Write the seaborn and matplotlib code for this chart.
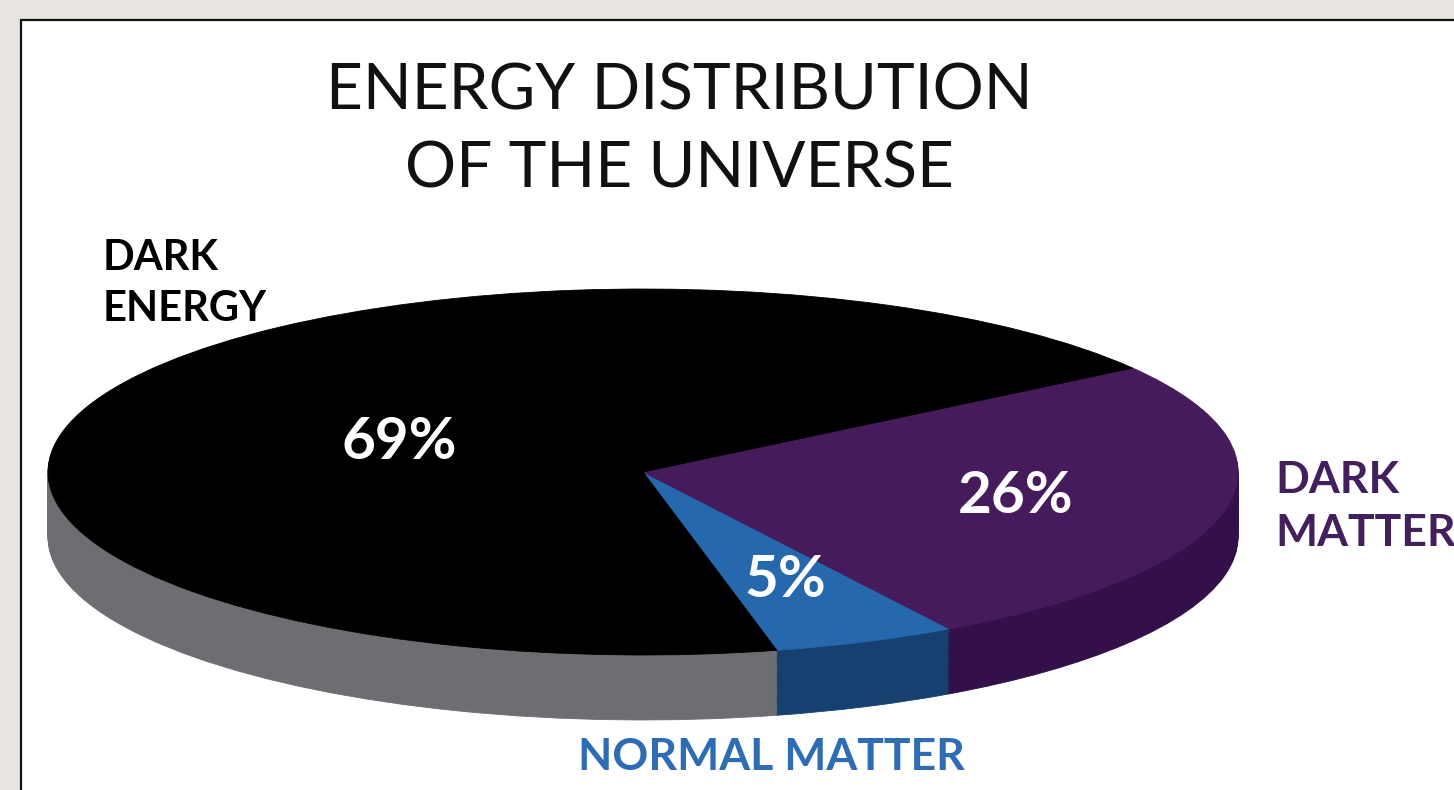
import numpy as np
import matplotlib
matplotlib.use("Agg")
import matplotlib.pyplot as plt
from matplotlib.patches import Rectangle
import seaborn as sns

# Components of the universe's energy budget (percent)
components = ["NORMAL MATTER", "DARK MATTER", "DARK ENERGY"]
shares = [5, 26, 69]
top_colors = ["#2568ad", "#461b5c", "#000000"]
side_colors = ["#16406f", "#34104a", "#6d6e71"]
label_colors = ["#2e6db4", "#42205e", "#000000"]
title_lines = ["ENERGY DISTRIBUTION", "OF THE UNIVERSE"]

W, H = 1454, 790
sns.set_theme(style="white")
plt.rcParams["font.family"] = ["Lato", "DejaVu Sans"]

fig = plt.figure(figsize=(W / 100, H / 100), dpi=100)
fig.patch.set_facecolor("#e8e5e0")

# white card with a thin black border, kept behind the chart
card = Rectangle((20.5 / W, -0.2), 1.5, 1.2 - 19.5 / H, transform=fig.transFigure,
                 facecolor="white", edgecolor="#111111", linewidth=1.6, zorder=-5)
fig.patches.append(card)

ax = fig.add_axes([0, 0, 1, 1])
ax.set_facecolor("none")

# ellipse placement of the pie's top face (pixels)
cx, cy, a, b = 643, 472, 595, 183
depth = 0.355         # thickness of the disc, in pie radii (vertical)
start = -77           # angle where the first wedge begins

# extruded side: stack of darker pies shifted downward
for t in np.linspace(depth, 0.0, 60, endpoint=False):
    wedges, _ = ax.pie(shares, colors=side_colors, startangle=start,
                       counterclock=True, center=(0, -t), radius=1,
                       wedgeprops=dict(linewidth=0.6))
    for w in wedges:
        w.set_edgecolor(w.get_facecolor())

# top face
wedges, _ = ax.pie(shares, colors=top_colors, startangle=start,
                   counterclock=True, center=(0, 0), radius=1,
                   wedgeprops=dict(linewidth=0.6))
for w in wedges:
    w.set_edgecolor(w.get_facecolor())

# percentage labels inside the wedges
pct_radius = [0.64, 0.64, 0.44]
cum = np.cumsum(shares)
for v, c, r in zip(shares, cum, pct_radius):
    mid = np.deg2rad(start + (c - v / 2) * 3.6)
    ax.text(r * np.cos(mid), r * np.sin(mid), f"{v}%", color="white",
            fontsize=42, fontweight="bold", ha="center", va="center")

ax.set_aspect("auto")
ax.set_xlim(-cx / a, (W - cx) / a)
ax.set_ylim((cy - H) / b, cy / b)
ax.axis("off")


def px(x, y):
    return x / W, 1 - y / H


# title
for line, yb in zip(title_lines, [110, 187]):
    fig.text(*px(679, yb), line, fontsize=46, fontweight="normal",
             color="#111111", ha="center", va="baseline")

# component names
fig.text(*px(103, 270), "DARK", fontsize=30, fontweight="bold",
         color=label_colors[2], ha="left", va="baseline")
fig.text(*px(103, 321), "ENERGY", fontsize=30, fontweight="bold",
         color=label_colors[2], ha="left", va="baseline")
fig.text(*px(1275, 493), "DARK", fontsize=32, fontweight="bold",
         color=label_colors[1], ha="left", va="baseline")
fig.text(*px(1275, 546), "MATTER", fontsize=32, fontweight="bold",
         color=label_colors[1], ha="left", va="baseline")
fig.text(*px(771, 770), components[0], fontsize=32, fontweight="bold",
         color=label_colors[0], ha="center", va="baseline")

fig.savefig("out.png", dpi=100, facecolor=fig.get_facecolor())
